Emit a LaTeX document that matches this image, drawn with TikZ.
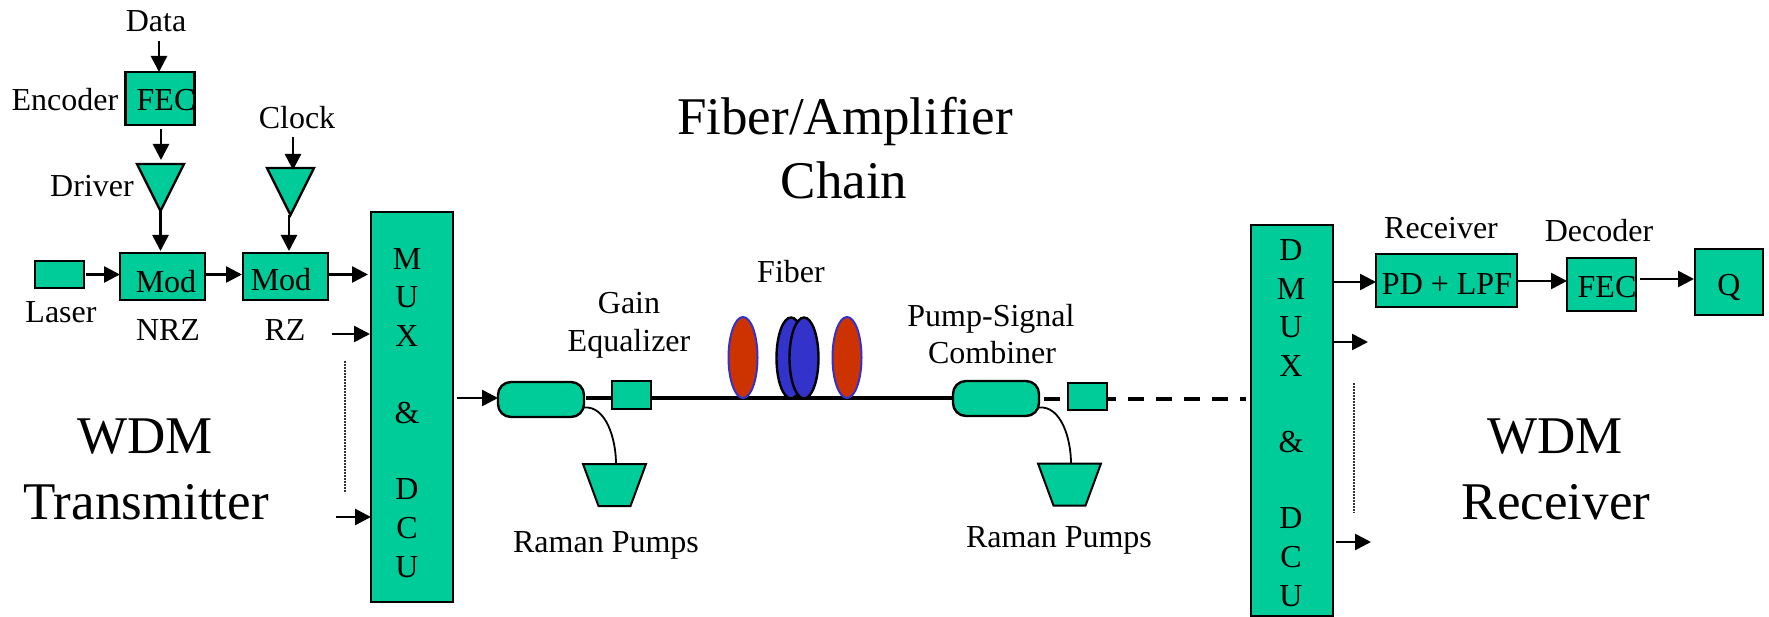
\documentclass[tikz,border=0pt]{standalone}
\usepackage{fontspec}
\setmainfont{Liberation Serif}
\usetikzlibrary{arrows.meta,shapes.geometric}
\definecolor{teal}{HTML}{00CC99}
\definecolor{redd}{HTML}{CC3300}
\definecolor{bluu}{HTML}{3333CC}
\tikzset{
  txt/.style={anchor=base,inner sep=0pt,outer sep=0pt,font=\fontsize{32}{36}\selectfont},
  bigtxt/.style={anchor=base,inner sep=0pt,outer sep=0pt,font=\fontsize{53}{60}\selectfont},
  blk/.style={draw=black,line width=2.4pt,fill=teal,inner sep=0pt,outer sep=0pt},
  box/.style={blk,rectangle},
  tube/.style={blk,rectangle,rounded corners=13pt},
  amp/.style={blk,isosceles triangle,isosceles triangle stretches=true,shape border rotate=270,minimum height=47pt,minimum width=47pt,anchor=apex},
  pump/.style={rectangle,inner sep=0pt,outer sep=0pt,minimum width=63pt,minimum height=42pt},
  pumpbody/.style={draw=black,line width=2pt,fill=teal},
  arr/.style={draw=black,line width=2.6pt,-{Triangle[length=16pt,width=16pt]}},
  fibre/.style={draw=black,line width=3.6pt},
  curvy/.style={draw=black,line width=1.8pt},
  dots/.style={draw=black!80,line width=1.2pt,dash pattern=on 1.6pt off 1.4pt},
  disc/.style={ellipse,inner sep=0pt,outer sep=0pt,minimum width=29pt,minimum height=81pt},
  discR/.style={disc,draw=bluu,line width=2pt,fill=redd},
  discB/.style={disc,draw=black,line width=2.4pt,fill=bluu},
}
\begin{document}
\begin{tikzpicture}[x=1pt,y=-1pt]
\useasboundingbox (0,0) rectangle (1769,617);
\fill[white] (0,0) rectangle (1769,617);
% transmitter blocks
\node[box,minimum width=69pt,minimum height=53pt] (fec) at (160,98.5) {};
\node[amp] (drv) at (160.5,211) {};
\node[amp] (clk) at (290.5,215) {};
\node[box,minimum width=49pt,minimum height=27pt] (laser) at (59.5,274.5) {};
\node[box,minimum width=85pt,minimum height=47pt] (modA) at (162.5,276.5) {};
\node[box,minimum width=85pt,minimum height=47pt] (modB) at (285.5,276.5) {};
\node[box,minimum width=82pt,minimum height=390pt] (mux) at (412,407) {};
% line
\node[tube,minimum width=86pt,minimum height=35pt] (cplA) at (541,399.5) {};
\node[tube,minimum width=86pt,minimum height=35pt] (cplB) at (996,398.5) {};
\node[box,minimum width=82pt,minimum height=391pt] (dmux) at (1292,420.5) {};
\draw[fibre] ([xshift=2pt]cplA.east |- 0,398) -- (cplB.west |- 0,398);
\draw[fibre,dash pattern=on 16.3pt off 11.7pt] ([xshift=5pt]cplB.east |- 0,399) -- ([xshift=-5pt]dmux.west |- 0,399);
\node[box,minimum width=39pt,minimum height=28pt] (eqA) at (631.5,395) {};
\node[box,minimum width=39pt,minimum height=27pt] (eqB) at (1087.5,396.5) {};
\node[discR] (dA) at (743,357.5) {};
\node[discB] (dB) at (791,358) {};
\node[discB] (dC) at (804,358) {};
\node[discR] (dD) at (847,357.5) {};
\node[pump] (pA) at (614.5,485) {};
\node[pump] (pB) at (1069.5,484.5) {};
\draw[pumpbody] (pA.north west) -- (pA.north east) -- ([xshift=-15.5pt]pA.south east) -- ([xshift=15.5pt]pA.south west) -- cycle;
\draw[pumpbody] (pB.north west) -- (pB.north east) -- ([xshift=-15.5pt]pB.south east) -- ([xshift=15.5pt]pB.south west) -- cycle;
\draw[curvy] ([yshift=-8pt]cplA.east) .. controls +(22pt,2pt) and +(0pt,25pt) .. ([xshift=1.5pt]pA.north);
\draw[curvy] ([yshift=-9pt]cplB.east) .. controls +(22pt,2pt) and +(0pt,25pt) .. ([xshift=1.5pt]pB.north);
% receiver blocks
\node[box,minimum width=141pt,minimum height=53pt] (pd) at (1446.5,280.5) {};
\node[box,minimum width=69pt,minimum height=53pt] (fecR) at (1601.5,284.5) {};
\node[box,minimum width=68pt,minimum height=66pt] (q) at (1729,282) {};
% free ends
\coordinate (dataS) at (159,41);
\coordinate (clkS) at (293,137);
\coordinate (muxB) at (332,334);
\coordinate (muxC) at (336,517);
\coordinate (muxIn) at (457,398);
\coordinate (dmuxB) at (1368,342);
\coordinate (dmuxC) at (1371,542);
\coordinate (dotA) at (345,361);
\coordinate (dotB) at (345,493);
\coordinate (dotC) at (1354,383);
\coordinate (dotD) at (1354,513);
% connectors
\draw[arr] (dataS) -- (dataS |- fec.north);
\draw[arr] ([yshift=-4pt]fec.south -| 161,0) -- ([yshift=4pt]drv.left corner -| 161,0);
\draw[arr] (drv.apex) -- ([yshift=2pt]modA.north -| drv.apex);
\draw[arr] (clkS) -- ([yshift=-2pt]clk.left corner -| clkS);
\draw[arr] (clk.apex -| 289,0) -- ([yshift=2pt]modB.north -| 289,0);
\draw[arr] ([xshift=2pt]laser.east) -- (modA.west |- laser.east);
\draw[arr] (modA.east |- laser.east) -- ([xshift=-1pt]modB.west |- laser.east);
\draw[arr] (modB.east |- laser.east) -- ([xshift=-3pt]mux.west |- laser.east);
\draw[arr] (muxB) -- ([xshift=-1pt]mux.west |- muxB);
\draw[arr] (muxC) -- (mux.west |- muxC);
\draw[arr] (muxIn) -- (cplA.west |- muxIn);
\draw[arr] (dmux.east |- 0,282) -- (pd.west |- 0,282);
\draw[arr] (dmux.east |- dmuxB) -- (dmuxB);
\draw[arr] ([xshift=3pt]dmux.east |- dmuxC) -- (dmuxC);
\draw[arr] (pd.east |- 0,281) -- (fecR.west |- 0,281);
\draw[arr] ([xshift=4pt]fecR.east |- 0,279) -- ([xshift=-1pt]q.west |- 0,279);
\draw[dots] (dotA) -- (dotB);
\draw[dots] (dotC) -- (dotD);
% texts
\node[txt] (tData) at (156,32) {Data};
\node[txt] (tEnc) at (65,111) {Encoder};
\node[txt] (tFec) at (166,111) {FEC};
\node[txt] (tDrv) at (92,197) {Driver};
\node[txt] (tClk) at (297,129) {Clock};
\node[txt] (tLas) at (61,323) {Laser};
\node[txt] (tModA) at (166,293) {Mod};
\node[txt] (tModB) at (281,291) {Mod};
\node[txt] (tNrz) at (168,341) {NRZ};
\node[txt] (tRz) at (285,341) {RZ};
\foreach \n/\t/\y in {a/M/270,b/U/308,c/X/347,d/\&/423,e/D/499,f/C/538,g/U/577}
  \node[txt] (m\n) at (407,\y) {\t};
\foreach \n/\t/\y in {a/D/261,b/M/300,c/U/338,d/X/377,e/\&/452,f/D/528,g/C/567,h/U/606}
  \node[txt] (r\n) at (1291,\y) {\t};
\node[txt] (tGain) at (629,314) {Gain};
\node[txt] (tEq) at (629,352) {Equalizer};
\node[txt] (tFib) at (791,283) {Fiber};
\node[txt] (tRamA) at (606,552) {Raman Pumps};
\node[txt] (tRamB) at (1059,547) {Raman Pumps};
\node[txt] (tPump) at (991,327) {Pump-Signal};
\node[txt] (tComb) at (992,363) {Combiner};
\node[txt] (tRcv) at (1441,239) {Receiver};
\node[txt] (tDec) at (1599,242) {Decoder};
\node[txt] (tPd) at (1447,295) {PD + LPF};
\node[txt] (tFecR) at (1607,298) {FEC};
\node[txt] (tQ) at (1729,296) {Q};
\node[bigtxt] (tFA) at (845,135) {Fiber/Amplifier};
\node[bigtxt] (tCh) at (844,199) {Chain};
\node[bigtxt] (tW1) at (145,453) {WDM};
\node[bigtxt] (tTx) at (146,519) {Transmitter};
\node[bigtxt] (tW2) at (1555,453) {WDM};
\node[bigtxt] (tRx) at (1556,519) {Receiver};
\end{tikzpicture}
\end{document}
